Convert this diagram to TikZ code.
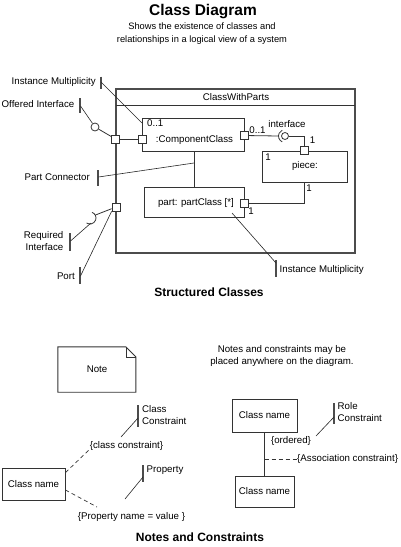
\documentclass[tikz,border=0pt]{standalone}
\usepackage{fontspec}
\setmainfont{Liberation Sans}
\usetikzlibrary{calc,positioning,shapes}
\tikzset{
>=stealth,
  txt/.style={inner sep=0pt, font=\fontsize{9.7}{12}\selectfont},
  heading/.style={inner sep=0pt, font=\fontsize{12}{14}\selectfont\bfseries},
  box/.style={
    rectangle,
    draw=black!80, line width=0.9pt,
    inner sep=0pt,
    font=\fontsize{9.7}{12}\selectfont},
  port/.style={rectangle, draw=black!80, fill=white, line width=0.8pt,
    minimum size=8pt, inner sep=0pt},
  conn/.style={draw=black!80, line width=0.8pt},
  lead/.style={draw=black!85, line width=0.6pt},
  tick/.style={draw=black!70, line width=1.3pt},
  dashline/.style={draw=black!80, line width=0.7pt, dash pattern=on 4pt off 3pt},
}
\begin{document}
\begin{tikzpicture}[x=1pt, y=-1pt]
  \useasboundingbox (0,0) rectangle (400,547);

  % titles
  \node[inner sep=0pt, font=\fontsize{15.5}{18}\selectfont\bfseries] (title) at (203,12) {Class Diagram};
  \node[txt, align=center, font=\fontsize{9.3}{13}\selectfont] (subtitle) at (202,33.5) {Shows the existence of classes and\\relationships in a logical view of a system};

  % structured class
  \node[box, line width=1.6pt, draw=black!70, minimum width=239pt, minimum height=164pt] (outer) at (235.5,171) {};
  \coordinate (hdrL) at (116,105);
  \coordinate (hdrR) at (355,105);
  \path[conn] (hdrL) -- (hdrR);
  \node[txt] (outername) at (236,97) {ClassWithParts};

  \node[box, minimum width=102pt, minimum height=33pt] (comp) at (193,134.5) {};
    \node[txt, anchor=west] (compmult) at (147,123.5) {0..1};
    \node[txt] (compname) at (194.5,139.5) {:ComponentClass};
  \node[box, minimum width=85pt, minimum height=31pt] (piece) at (304.5,166.5) {};
    \node[txt] (piecemult) at (268,157) {1};
    \node[txt] (piecename) at (305,166) {piece:};
  \node[box, minimum width=100pt, minimum height=30pt] (part) at (194,202) {};
    \node[txt] (partname) at (196,203) {part: partClass [*]};

  \node[port] (portA) at (115.5,139) {};
  \node[port] (portB) at (142,139) {};
  \node[port] (portC) at (244,135.5) {};
  \node[port] (portD) at (304,150.5) {};
  \node[port] (portE) at (244,203) {};
  \node[port] (portF) at (116,207) {};

  \node[txt] (multC) at (257.5,130) {0..1};
  \node[txt] (multD) at (312.5,140.5) {1};
  \node[txt] (multE) at (251,211.5) {1};
  \node[txt] (multP) at (309,188) {1};

  % provided / required interfaces
  \node[circle, draw=black!80, line width=0.8pt, minimum size=7pt, inner sep=0pt] (ballI) at (285,136) {};
  \draw[conn] (285,136) ++(115:6.5) arc (115:245:6.5);
  \coordinate (sockI) at (278.5,136);
  \node[txt] (ifname) at (287,124) {interface};
  \node[circle, draw=black!80, line width=0.8pt, minimum size=8pt, inner sep=0pt] (ballO) at (95,127) {};
  \draw[conn] (90,218) ++(-70:6) arc (-70:125:6);
  \coordinate (sockR) at (95.5,215);

  \path[conn] (portA) -- (portB);
  \path[conn] (portC) -- (sockI);
  \path[conn] (ballI) -| (portD);
  \path[conn] (piece) |- (portE);
  \path[conn] (comp.south -| part.north) -- (part.north);
  \path[conn] (ballO) -- (portA);
  \path[conn] (sockR) -- (portF);

  % annotations
  \node[txt, anchor=east] (instmultA) at (96,82) {Instance Multiplicity};
    \draw[tick] (101,76.5) -- (101,89);
    \coordinate (tickA) at (101,82);
    \coordinate (compcorner) at (142,123);
    \path[lead] (tickA) -- (compcorner);
  \node[txt, anchor=east] (offered) at (74.5,104) {Offered Interface};
    \draw[tick] (80,98) -- (80,113);
    \coordinate (tickB) at (80.5,106);
    \path[lead] (tickB) -- (ballO);
  \node[txt, anchor=east] (partconn) at (90,177) {Part Connector};
    \draw[tick] (98,170) -- (98,186);
    \coordinate (tickC) at (98.5,177);
    \coordinate (pcmid) at (194,163);
    \path[lead] (tickC) -- (pcmid);
  \node[txt, anchor=east, align=right] (required) at (63.5,241) {Required\\Interface};
    \draw[tick] (70,233) -- (70,251);
    \coordinate (tickD) at (70.5,241);
    \coordinate (sockRlow) at (91,223);
    \path[lead] (tickD) -- (sockRlow);
  \node[txt, anchor=east] (portlbl) at (75,276) {Port};
    \draw[tick] (80,267) -- (80,284);
    \coordinate (tickE) at (80.5,276);
    \path[lead] (tickE) -- (portF.south west);
  \node[txt, anchor=west] (instmultB) at (279.5,270) {Instance Multiplicity};
    \draw[tick] (276,260) -- (276,277);
    \coordinate (tickF) at (276,263);
    \coordinate (partmult) at (232,213);
    \path[lead] (tickF) -- (partmult);

  \node[heading] (structured) at (209,292) {Structured Classes};

  % notes and constraints
  \node[txt, minimum width=78pt, minimum height=45pt] (note) at (97,369.5) {Note};
  \draw[box] (note.north west) -- ++(68,0) -- ++(10,10) |- (note.south west) -- cycle;
  \draw[box, line width=0.6pt] ($(note.north east)+(-10,0)$) |- ++(10,10);
  \node[txt, align=center] (notetext) at (282,356) {Notes and constraints may be\\placed anywhere on the diagram.};

  \node[box, minimum width=65pt, minimum height=33pt] (cnA) at (264.5,415.5) {Class name};
  \node[box, minimum width=59pt, minimum height=31pt] (cnB) at (264.5,491.5) {Class name};
  \path[conn] (cnA) -- (cnB);
  \node[txt] (ordered) at (291,441) {\{ordered\}};
  \node[txt, anchor=west] (assoc) at (297,459) {\{Association constraint\}};
  \coordinate (assocA) at (264.5,459);
  \path[dashline] (assocA) -- (assoc.west);
  \node[txt, anchor=west, align=left] (rolec) at (337.5,412) {Role\\Constraint};
    \draw[tick] (334,403) -- (334,424);
    \coordinate (tickG) at (334,417);
    \coordinate (ordend) at (316,436);
    \path[lead] (tickG) -- (ordend);

  \node[box, minimum width=63pt, minimum height=32pt] (cnC) at (33.5,484) {Class name};
  \node[txt] (clscons) at (126.5,446) {\{class constraint\}};
  \node[txt] (propval) at (131.5,517) {\{Property name = value \}};
  \coordinate (clsend) at (90,449);
  \coordinate (propend) at (97,507);
  \path[dashline] ($(cnC.north east)+(0,5)$) -- (clsend);
  \path[dashline] ($(cnC.east)+(0,6)$) -- (propend);
  \node[txt, anchor=west, align=left] (clsconslbl) at (142,415) {Class\\Constraint};
    \draw[tick] (138,405) -- (138,427);
    \coordinate (tickH) at (138,418);
    \coordinate (clsconsend) at (121,437);
    \path[lead] (tickH) -- (clsconsend);
  \node[txt, anchor=west] (proplbl) at (146.5,470) {Property};
    \draw[tick] (143,465) -- (143,482);
    \coordinate (tickI) at (143,477);
    \coordinate (propvalend) at (125,499);
    \path[lead] (tickI) -- (propvalend);

  \node[heading] (notesh) at (200,537) {Notes and Constraints};
\end{tikzpicture}
\end{document}
